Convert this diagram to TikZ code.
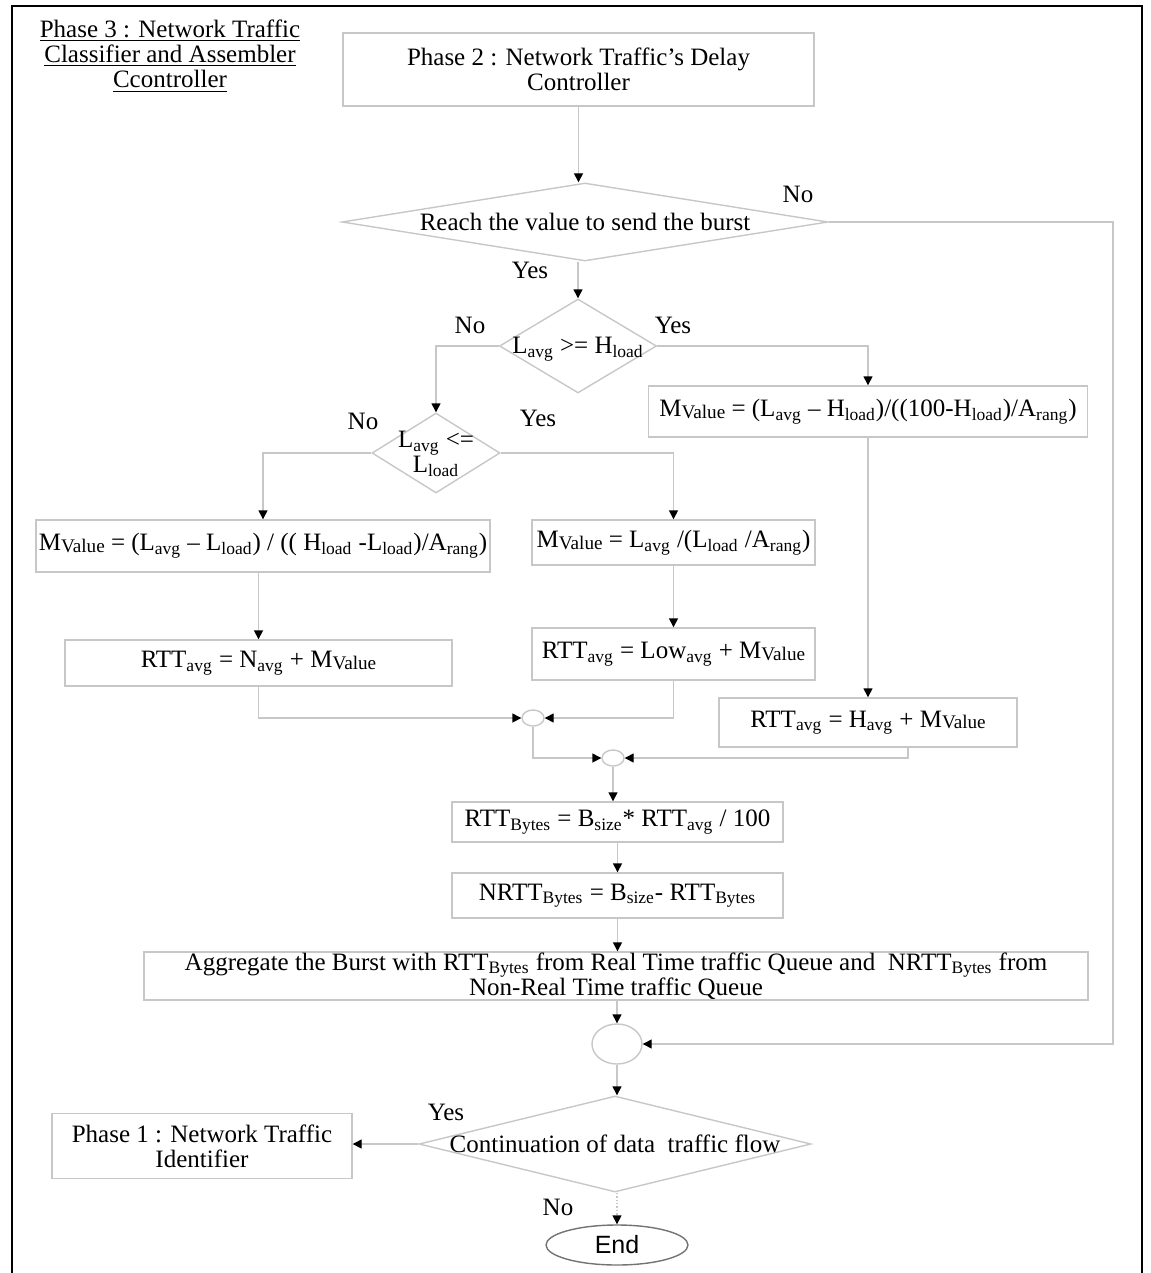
\documentclass[tikz,border=0pt]{standalone}
\usepackage{fontspec}
\setmainfont{Liberation Serif}
\newfontfamily\endfont{Liberation Sans}
\usetikzlibrary{arrows.meta,shapes.geometric}
\newcommand\sbs[1]{\textsubscript{#1}}
\newcommand\val{\raisebox{-0.15ex}{\fontsize{9.6}{9.6}\selectfont Value}}
\definecolor{linec}{gray}{0.78}
\begin{document}
\begin{tikzpicture}[x=0.5pt,y=-0.5pt,
  every node/.style={font=\fontsize{12.5}{12.6}\selectfont, inner sep=0pt},
  wh/.style 2 args={minimum width=#1*0.5pt, minimum height=#2*0.5pt},
  box/.style={draw=linec, line width=0.7pt, rectangle, align=center},
  dia/.style={draw=linec, line width=0.7pt, diamond},
  junc/.style={draw=linec, line width=0.7pt, ellipse},
  conn/.style={draw=linec, line width=0.7pt},
  arr/.style={conn, -{Triangle[length=4.5pt,width=4.5pt,color=black]}}]
\useasboundingbox (0,0) rectangle (1150,1273);

% page frame
\draw[line width=1.2pt] (12,1290) -- (12,6) -- (1142,6) -- (1142,1290);

% heading
\node[align=center] (title) at (170,56)
  {\underline{Phase 3 : Network Traffic}\\\underline{Classifier and Assembler}\\\underline{Ccontroller}};

% boxes
\node[box, wh={471}{73}] (p2) at (578.5,69.5) {Phase 2 : Network Traffic's Delay\\Controller};
\node[dia, wh={486}{78}] (d1) at (585,222) {};
\node at (d1) {Reach the value to send the burst};
\node[dia, wh={157}{94}] (d2) at (578,346) {};
\node at (578,349) {L\sbs{avg} >= H\sbs{load}};
\node[dia, wh={128}{80}] (d3) at (436,453) {};
\node[align=center] at (436,454) {L\sbs{avg} <=\\L\sbs{load}};

\node[box, wh={439}{51}] (r1) at (868,411.5) {M\val{} = (L\sbs{avg} -- H\sbs{load})/((100-H\sbs{load})/A\sbs{rang})};
\node[box, wh={454}{52}] (l1) at (263,546) {M\val{} = (L\sbs{avg} -- L\sbs{load}) / (( H\sbs{load} -L\sbs{load})/A\sbs{rang})};
\node[box, wh={387}{46}] (l2) at (258.5,663) {RTT\sbs{avg} = N\sbs{avg} + M\val};
\node[box, wh={283}{45}] (m1) at (673.5,542.5) {M\val{} = L\sbs{avg} /(L\sbs{load} /A\sbs{rang})};
\node[box, wh={283}{52}] (m2) at (673.5,654) {RTT\sbs{avg} = Low\sbs{avg} + M\val};
\node[box, wh={298}{49}] (r2) at (868,722.5) {RTT\sbs{avg} = H\sbs{avg} + M\val};

\node[junc, wh={22}{16}] (j1) at (533,718) {};
\node[junc, wh={22}{16}] (j2) at (613,758) {};

\node[box, wh={331}{40}] (b1) at (617.5,822) {RTT\sbs{Bytes} = B\sbs{size}* RTT\sbs{avg} / 100};
\node[box, wh={331}{45}] (b2) at (617.5,895.5) {NRTT\sbs{Bytes} = B\sbs{size}- RTT\sbs{Bytes}};
\node[box, wh={944}{48}] (b3) at (616,976) {Aggregate the Burst with RTT\sbs{Bytes} from Real Time traffic Queue and \ NRTT\sbs{Bytes} from\\Non-Real Time traffic Queue};

\node[junc, wh={50}{40}] (j3) at (617,1044) {};
\node[dia, wh={392}{96}] (d4) at (615,1144) {};
\node at (d4) {Continuation of data \ traffic flow};
\node[box, wh={300}{65}] (p1) at (202,1146) {Phase 1 : Network Traffic\\Identifier};
\node[ellipse, draw=black!55, line width=0.7pt, wh={142}{40}, font=\endfont\fontsize{12.5}{13}\selectfont] (end) at (617,1245) {End};

% branch labels
\node (n1) at (798,194) {No};
\node (y1) at (530,270) {Yes};
\node (n2) at (470,325) {No};
\node (y2) at (673,325) {Yes};
\node (n3) at (363,421) {No};
\node (y3) at (538,418) {Yes};
\node (y4) at (446,1112) {Yes};
\node (n4) at (558,1207) {No};

% connectors
\coordinate (rx) at (1113,0);
\draw[arr] (p2.south) -- (p2.south |- d1.north);
\draw[arr] (d1.east) -| (rx |- j3.east) -- (j3.east);
\draw[arr] (d2.north |- d1.south) -- (d2.north);
\draw[arr] (d2.west) -| (d3.north);
\draw[arr] (d2.east) -| (r1.north);
\draw[arr] (d3.west) -| (l1.north);
\draw[arr] (d3.east) -| (m1.north);
\draw[arr] (r2.north |- r1.south) -- (r2.north);
\draw[arr] (l2.north |- l1.south) -- (l2.north);
\draw[arr] (m1.south) -- (m2.north);
\draw[arr] (l2.south) |- (j1.west);
\draw[arr] (m2.south) |- (j1.east);
\draw[arr] (j1.south) |- (j2.west);
\draw[arr] ([xshift=20pt]r2.south) |- (j2.east);
\draw[arr] (j2.south) -- (j2.south |- b1.north);
\draw[arr] (b1.south) -- (b2.north);
\draw[arr] (b2.south) -- (b2.south |- b3.north);
\draw[arr] (j3.north |- b3.south) -- (j3.north);
\draw[arr] (j3.south) -- (j3.south |- d4.north);
\draw[arr] (d4.west) -- (p1.east |- d4.west);
\draw[arr, densely dotted] (end.north |- d4.south) -- (end.north);
\end{tikzpicture}
\end{document}
